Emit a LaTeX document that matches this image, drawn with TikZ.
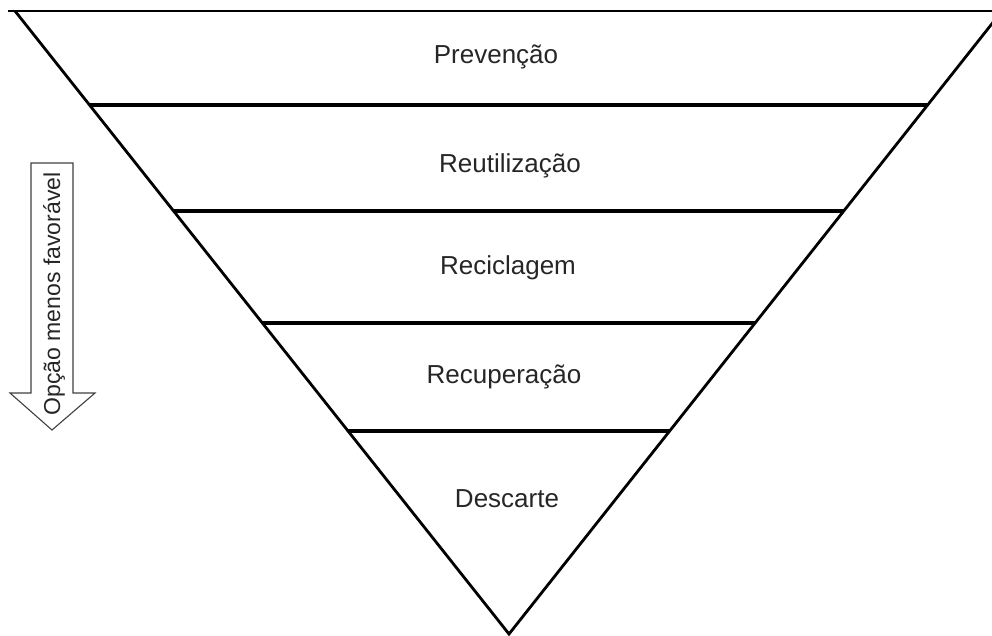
\documentclass[tikz,border=0pt]{standalone}
\usepackage{fontspec}
\setmainfont{Liberation Sans}
\usetikzlibrary{calc}
\begin{document}
\begin{tikzpicture}[x=1pt,y=-1pt,
  edge/.style={line width=2.8pt,black},
  band/.style={line width=3.2pt,black},
  lbl/.style={font=\fontsize{26}{28}\selectfont,text=black!85,anchor=base,inner sep=0pt},
  arrowlbl/.style={font=\fontsize{23}{26}\selectfont,text=black!85,rotate=90,inner sep=0pt}]
\useasboundingbox (0,0) rectangle (992,635);
\clip (0,0) rectangle (992,635);
\coordinate (tl) at (15,11);
\coordinate (tr) at (1002,11);
\coordinate (apex) at (509,634);
% triangle edges
\draw[line width=2.2pt] (8,11) -- (992,11);
\draw[edge,line join=miter] (tl) -- (apex) -- (tr);
% bands
\foreach \t [count=\i] in {0.1509,0.3210,0.5008,0.6742}{
  \coordinate (l\i) at ($(tl)!\t!(apex)$);
  \coordinate (r\i) at ($(tr)!\t!(apex)$);
  \draw[band] (l\i) -- (r\i);
}
% labels
\node[lbl] (p1) at (496,63) {Prevenção};
\node[lbl] (p2) at (510,172) {Reutilização};
\node[lbl] (p3) at (508,274) {Reciclagem};
\node[lbl] (p4) at (504,383) {Recuperação};
\node[lbl] (p5) at (507,507) {Descarte};
% arrow
\draw[line width=1.1pt,black!75,fill=white] (31,163) -- (73,163) -- (73,393) -- (95,393) -- (52,430) -- (10,393) -- (31,393) -- cycle;
\node[arrowlbl] (al) at (54,294) {Opção menos favorável};
\end{tikzpicture}
\end{document}
